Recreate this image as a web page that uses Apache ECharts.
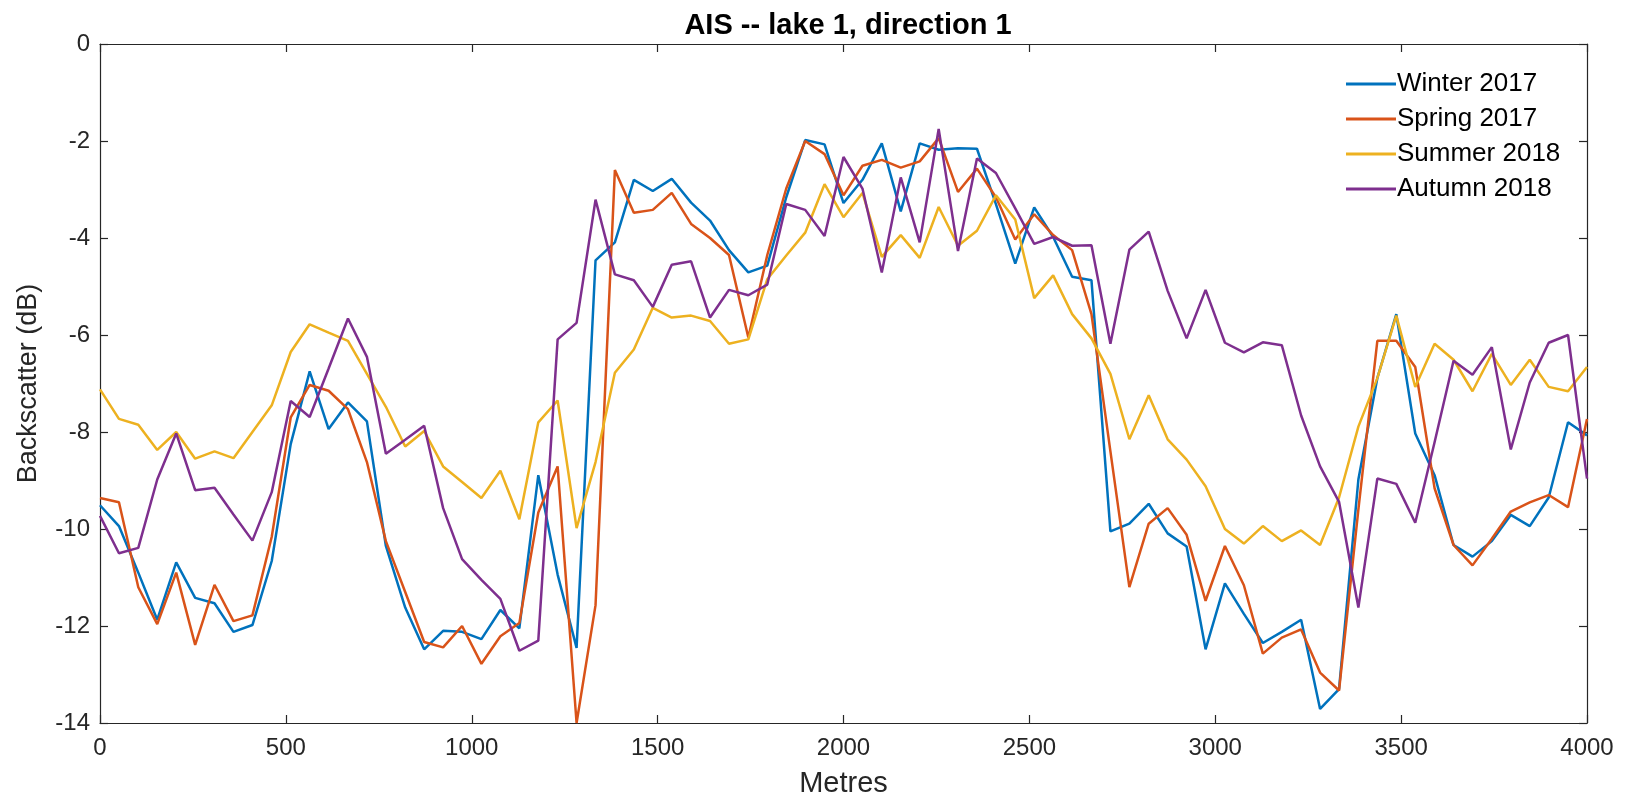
<!DOCTYPE html>
<html>
<head>
<meta charset="utf-8">
<script src="https://cdn.jsdelivr.net/npm/echarts@6/dist/echarts.min.js"></script>
<style>
html,body{margin:0;padding:0;background:#fff;}
#chartEle{width:1636px;height:803px;}
</style>
</head>
<body>
<div id="chartEle"></div>
<script>
// distance along the transect (m)
var metres = [0, 51, 103, 154, 205, 256, 308, 359, 410, 462, 513, 564, 615, 667, 718, 769, 821, 872, 923, 974,
    1026, 1077, 1128, 1179, 1231, 1282, 1333, 1385, 1436, 1487, 1538, 1590, 1641, 1692, 1744, 1795, 1846, 1897, 1949, 2000,
    2051, 2103, 2154, 2205, 2256, 2308, 2359, 2410, 2462, 2513, 2564, 2615, 2667, 2718, 2769, 2821, 2872, 2923, 2974, 3026,
    3077, 3128, 3179, 3231, 3282, 3333, 3385, 3436, 3487, 3538, 3590, 3641, 3692, 3744, 3795, 3846, 3897, 3949, 4000];

var winter2017 = [-9.51, -9.94, -10.9, -11.87, -10.69, -11.42, -11.53, -12.12, -11.98, -10.66, -8.25, -6.75, -7.94, -7.39, -7.78, -10.35, -11.62, -12.48, -12.1, -12.12,
    -12.27, -11.67, -12.05, -8.89, -10.94, -12.45, -4.46, -4.09, -2.8, -3.03, -2.78, -3.27, -3.64, -4.25, -4.71, -4.57, -3.16, -1.98, -2.07, -3.28,
    -2.8, -2.05, -3.45, -2.05, -2.18, -2.15, -2.16, -3.3, -4.53, -3.37, -3.98, -4.8, -4.87, -10.05, -9.89, -9.48, -10.09, -10.36, -12.48, -11.12,
    -11.75, -12.35, -12.12, -11.87, -13.71, -13.3, -8.98, -6.89, -5.57, -8.03, -8.89, -10.33, -10.57, -10.25, -9.71, -9.94, -9.35, -7.8, -8.07];

var spring2017 = [-9.36, -9.45, -11.2, -11.96, -10.9, -12.39, -11.15, -11.9, -11.78, -10.16, -7.7, -7.03, -7.15, -7.53, -8.62, -10.25, -11.3, -12.33, -12.44, -12.0,
    -12.78, -12.21, -11.94, -9.66, -8.71, -14.0, -11.57, -2.6, -3.48, -3.42, -3.07, -3.71, -4.0, -4.35, -6.05, -4.35, -2.98, -2.0, -2.27, -3.12,
    -2.51, -2.39, -2.55, -2.42, -1.94, -3.05, -2.57, -3.16, -4.03, -3.51, -3.94, -4.25, -5.57, -8.4, -11.2, -9.89, -9.57, -10.12, -11.48, -10.35,
    -11.16, -12.57, -12.24, -12.07, -12.96, -13.33, -9.6, -6.12, -6.12, -6.66, -9.16, -10.33, -10.75, -10.2, -9.64, -9.45, -9.3, -9.55, -7.73];

var summer2018 = [-7.12, -7.73, -7.85, -8.37, -8.0, -8.55, -8.4, -8.54, -8.0, -7.45, -6.35, -5.78, -5.95, -6.12, -6.8, -7.48, -8.3, -7.98, -8.71, -9.03,
    -9.36, -8.8, -9.8, -7.8, -7.35, -9.98, -8.62, -6.78, -6.3, -5.44, -5.64, -5.6, -5.71, -6.18, -6.09, -4.85, -4.36, -3.89, -2.89, -3.57,
    -3.07, -4.39, -3.94, -4.41, -3.36, -4.16, -3.85, -3.12, -3.62, -5.24, -4.77, -5.57, -6.07, -6.8, -8.15, -7.24, -8.15, -8.57, -9.12, -10.0,
    -10.3, -9.94, -10.25, -10.03, -10.33, -9.35, -7.89, -6.89, -5.6, -7.07, -6.18, -6.51, -7.16, -6.39, -7.03, -6.51, -7.07, -7.16, -6.66];

var autumn2018 = [-9.73, -10.5, -10.39, -8.98, -8.03, -9.2, -9.15, -9.7, -10.24, -9.24, -7.36, -7.69, -6.69, -5.66, -6.45, -8.45, -8.16, -7.87, -9.57, -10.62,
    -11.05, -11.44, -12.51, -12.3, -6.09, -5.75, -3.21, -4.75, -4.87, -5.42, -4.55, -4.48, -5.64, -5.07, -5.18, -4.96, -3.3, -3.42, -3.96, -2.33,
    -2.98, -4.71, -2.75, -4.09, -1.75, -4.27, -2.36, -2.66, -3.39, -4.12, -3.98, -4.16, -4.15, -6.18, -4.24, -3.87, -5.09, -6.07, -5.07, -6.16,
    -6.36, -6.15, -6.21, -7.66, -8.71, -9.44, -11.62, -8.96, -9.07, -9.87, -8.21, -6.53, -6.82, -6.25, -8.36, -6.98, -6.16, -6.0, -8.96];

var seriesNames = ['Winter 2017', 'Spring 2017', 'Summer 2018', 'Autumn 2018'];
var seriesColors = ['#0072BD', '#D95319', '#EDB120', '#7E2F8E'];
var seriesValues = [winter2017, spring2017, summer2018, autumn2018];

var fontName = '"Liberation Sans", Arial, Helvetica, sans-serif';
var axisColor = '#262626';

function pairUp(xs, ys) {
    var out = [];
    ys.forEach(function (v, i) {
        out.push([xs[i], v]);
    });
    return out;
}

var seriesData = [];
seriesValues.forEach(function (vals, index) {
    seriesData.push({
        type: 'line',
        name: seriesNames[index],
        data: pairUp(metres, vals),
        symbol: 'none',
        animation: false,
        lineStyle: { color: seriesColors[index], width: 2.5 },
        itemStyle: { color: seriesColors[index] }
    });
});

function boxAxis(extra) {
    var base = {
        type: 'value',
        axisLine: { show: true, onZero: false, lineStyle: { color: axisColor, width: 1.2 } },
        axisTick: { show: true, inside: true, length: 8, lineStyle: { color: axisColor, width: 1.2 } },
        splitLine: { show: false },
        axisLabel: { show: false }
    };
    for (var k in extra) base[k] = extra[k];
    return base;
}

var myChart = echarts.init(document.getElementById('chartEle'));

var option = {
    backgroundColor: '#fff',
    title: {
        text: 'AIS -- lake 1, direction 1',
        left: 843,
        top: 6,
        textAlign: 'center',
        textStyle: { fontFamily: fontName, fontSize: 29, fontWeight: 'bold', color: '#000' }
    },
    legend: {
        orient: 'vertical',
        left: 1341,
        top: 66,
        icon: 'rect',
        itemWidth: 50,
        itemHeight: 3,
        itemGap: 9,
        data: seriesNames,
        textStyle: { fontFamily: fontName, fontSize: 26, color: '#000', padding: [0, 0, 0, -4] }
    },
    grid: {
        left: 100,
        right: 49,
        top: 44,
        bottom: 80
    },
    xAxis: [
        boxAxis({
            min: 0, max: 4000, interval: 500,
            name: 'Metres', nameLocation: 'middle', nameGap: 46,
            nameTextStyle: { fontFamily: fontName, fontSize: 29, color: axisColor },
            axisLabel: {
                show: true, margin: 13, fontFamily: fontName, fontSize: 24, color: axisColor,
                formatter: function (v) { return String(v); }
            }
        }),
        boxAxis({ min: 0, max: 4000, interval: 500, position: 'top' })
    ],
    yAxis: [
        boxAxis({
            min: -14, max: 0, interval: 2,
            name: 'Backscatter (dB)', nameLocation: 'middle', nameGap: 58,
            nameTextStyle: { fontFamily: fontName, fontSize: 27, color: axisColor },
            axisLabel: { show: true, margin: 10, fontFamily: fontName, fontSize: 24, color: axisColor }
        }),
        boxAxis({ min: -14, max: 0, interval: 2, position: 'right' })
    ],
    series: seriesData
};

myChart.setOption(option, true);
</script>
</body>
</html>
